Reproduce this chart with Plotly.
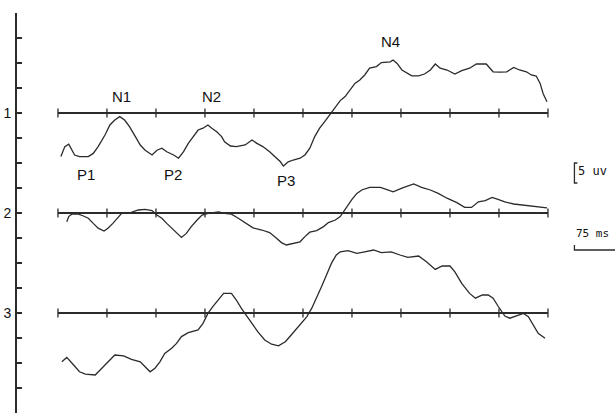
import plotly.graph_objects as go

# ---- data (time in ms, amplitude in uV; negative = up) ----
t1 = [3, 7, 11, 14, 17, 22, 31, 36, 41, 48, 53, 58, 63, 68, 73, 79, 84, 89, 96, 101, 106, 111, 118, 123, 128, 133,
      138, 143, 148, 153, 157, 162, 167, 170, 176, 182, 191, 198, 203, 209, 216, 221, 227, 230, 235, 240, 247, 252,
      257, 262, 267, 272, 278, 283, 288, 293, 298, 303, 308, 313, 318, 325, 330, 339, 342, 346, 351, 356, 361, 368,
      374, 380, 385, 390, 397, 405, 412, 420, 427, 437, 444, 451, 458, 465, 471, 478, 483, 488, 492, 495, 499]
v1 = [10.9, 8.4, 7.8, 9.3, 10.5, 10.9, 10.9, 10.1, 8.4, 5.5, 3.0, 1.75, 0.9, 1.75, 3.4, 5.9, 8.0, 9.3, 10.5, 9.3,
      8.8, 9.7, 10.5, 11.3, 9.7, 7.6, 5.9, 4.25, 3.8, 3.0, 3.8, 4.7, 5.9, 7.2, 8.25, 8.4, 8.0, 6.75, 7.6, 8.4, 9.7,
      10.9, 12.2, 13.25, 12.2, 11.75, 11.3, 10.5, 8.8, 5.9, 3.8, 2.2, 0.1, -1.6, -3.1, -4.1, -5.75, -7.4, -8.25,
      -9.5, -11.2, -11.6, -12.6, -12.8, -13.25, -12.4, -10.75, -10.1, -9.3, -9.3, -9.75, -10.75, -12.25, -11.2,
      -10.75, -9.75, -10.6, -11.2, -12.25, -12.25, -10.3, -10.2, -10.3, -11.4, -10.75, -10.3, -9.5, -9.25, -7.4,
      -4.9, -2.8]

t2 = [9, 11, 14, 21, 26, 31, 36, 41, 47, 51, 56, 62, 65, 72, 82, 89, 96, 101, 106, 111, 116, 121, 126, 131, 136,
      142, 147, 153, 164, 170, 177, 184, 191, 199, 208, 216, 223, 228, 233, 240, 247, 252, 257, 264, 271, 276, 283,
      288, 291, 295, 300, 305, 310, 318, 329, 335, 342, 351, 363, 371, 380, 388, 397, 407, 415, 422, 429, 436, 443,
      449, 456, 465, 473, 483, 490, 499]
v2 = [2.2, 0.9, 0.3, 0.3, 0.75, 1.3, 2.6, 3.8, 4.5, 3.8, 2.6, 0.9, 0.1, 0.1, -0.75, -0.9, -0.6, 0.5, 1.3, 2.6, 3.8,
      5.1, 6.1, 5.1, 3.4, 1.75, 0.5, 0.1, -0.25, 0.1, 0.3, 1.3, 2.4, 3.7, 4.25, 4.9, 6.3, 7.4, 8.0, 7.6, 7.2, 5.9,
      4.8, 4.4, 3.4, 2.4, 1.75, 0.9, -0.2, -1.6, -3.4, -4.9, -5.75, -6.4, -6.4, -5.9, -5.3, -6.2, -7.25, -6.4,
      -5.75, -4.9, -3.7, -2.6, -1.4, -1.4, -2.8, -3.1, -3.9, -3.4, -2.8, -2.25, -2.0, -1.75, -1.4, -1.3]

t3 = [4, 9, 16, 22, 28, 38, 43, 48, 53, 58, 67, 75, 84, 89, 94, 99, 104, 109, 116, 121, 126, 133, 143, 148, 153,
      158, 164, 169, 177, 182, 187, 193, 198, 204, 211, 218, 225, 232, 238, 247, 254, 259, 264, 269, 274, 279, 284,
      288, 296, 305, 313, 322, 330, 340, 349, 357, 368, 376, 385, 392, 400, 405, 412, 420, 426, 433, 439, 444, 449,
      453, 456, 461, 468, 475, 480, 485, 490, 497]
v3 = [12.2, 11.1, 13.0, 14.7, 15.3, 15.5, 14.25, 13.0, 11.6, 10.5, 10.7, 11.6, 12.2, 13.4, 14.7, 13.8, 12.2, 10.1,
      8.8, 7.6, 5.9, 4.9, 4.25, 2.6, 0.1, -1.6, -3.25, -4.9, -4.9, -3.25, -1.2, 0.9, 2.6, 4.7, 6.75, 7.8, 8.2, 7.2,
      5.5, 3.0, 0.9, -1.2, -3.7, -6.6, -9.5, -12.4, -14.5, -15.3, -15.6, -14.9, -15.3, -15.75, -15.1, -15.3, -14.5,
      -13.9, -14.25, -12.8, -10.9, -11.75, -11.75, -10.3, -7.4, -4.9, -3.7, -4.5, -4.5, -3.7, -1.75, -0.3, 0.75,
      1.3, 0.75, 0.1, 0.9, 3.0, 5.1, 6.3]

channels = [1, 2, 3]
channel_labels = ["1", "2", "3"]
time_ticks = [0, 50, 100, 150, 200, 250, 300, 350, 400, 450, 500]

peak_labels = ["N1", "N2", "N4", "P1", "P2", "P3"]
peak_times = [65, 157, 339, 29, 117, 233]
peak_channel = [1, 1, 1, 1, 1, 1]
peak_uv = [-4.25, -4.25, -18, 15.25, 15.25, 16.75]

scale_uv = 5
scale_ms = 75

UV = 0.04          # channel units per uV
INK = "#2b2b2b"

fig = go.Figure()

# channel baselines with time ticks
for ch in channels:
    fig.add_trace(go.Scatter(x=[time_ticks[0], time_ticks[-1]], y=[ch, ch], mode="lines",
                             line=dict(color=INK, width=2), hoverinfo="skip", showlegend=False))
    tx, ty = [], []
    for t in time_ticks:
        tx += [t, t, None]
        ty += [ch - 0.045, ch + 0.045, None]
    fig.add_trace(go.Scatter(x=tx, y=ty, mode="lines", line=dict(color=INK, width=1.3),
                             hoverinfo="skip", showlegend=False))

# waveforms
for ch, t, v in zip(channels, [t1, t2, t3], [v1, v2, v3]):
    fig.add_trace(go.Scatter(x=t, y=[ch + a * UV for a in v], mode="lines",
                             line=dict(color=INK, width=1.3), showlegend=False))

# peak labels
for lab, t, ch, a in zip(peak_labels, peak_times, peak_channel, peak_uv):
    fig.add_annotation(x=t, y=ch + a * UV, text=lab, showarrow=False,
                       font=dict(family="Liberation Sans", size=15, color="#111"))

# 5 uV calibration bracket
bx = 527
y0, y1 = 1.6 - scale_uv * UV / 2, 1.6 + scale_uv * UV / 2
fig.add_trace(go.Scatter(x=[bx + 3, bx, bx, bx + 3], y=[y0, y0, y1, y1], mode="lines",
                         line=dict(color=INK, width=1.3), hoverinfo="skip", showlegend=False))
fig.add_annotation(x=bx + 2, y=1.58, text=f"{scale_uv} uv", showarrow=False, xanchor="left",
                   font=dict(family="DejaVu Sans Mono", size=12, color="#111"))

# 75 ms scale bar
sx = 527
fig.add_trace(go.Scatter(x=[sx, sx, sx + scale_ms], y=[2.32, 2.37, 2.37], mode="lines",
                         line=dict(color=INK, width=1.3), hoverinfo="skip", showlegend=False))
fig.add_annotation(x=sx, y=2.2, text=f"{scale_ms} ms", showarrow=False, xanchor="left",
                   font=dict(family="DejaVu Sans Mono", size=11, color="#111"))

tickvals = [i * 0.25 for i in range(16)]
ticktext = [channel_labels[channels.index(int(v))] if v in channels else "" for v in tickvals]

fig.update_layout(
    width=615, height=413,
    margin=dict(l=17, r=0, t=13, b=0, autoexpand=False),
    paper_bgcolor="white", plot_bgcolor="white",
    xaxis=dict(range=[-41.8, 568.4], visible=False),
    yaxis=dict(range=[4, 0], showline=True, linecolor=INK, linewidth=2, automargin=False,
               tickvals=tickvals, ticktext=ticktext, ticks="inside", ticklen=5,
               tickwidth=1.5, tickcolor=INK, showgrid=False, zeroline=False,
               ticklabelstandoff=1,
               tickfont=dict(family="Liberation Sans", size=14, color="#111")),
)

# remove the default page margin so the figure fills the window exactly
fig.write_html("out.html", config={"displayModeBar": False},
               post_script="document.body.style.margin='0';")
